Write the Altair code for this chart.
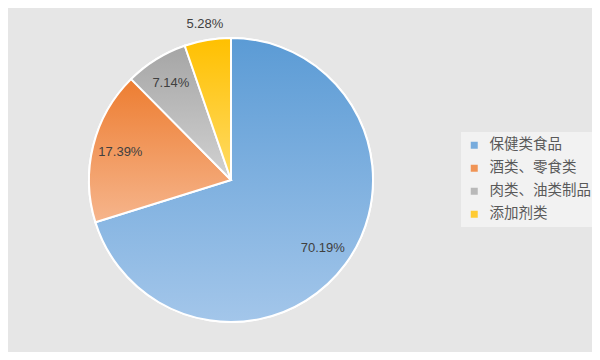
import altair as alt
import pandas as pd

categories = ["保健类食品", "酒类、零食类", "肉类、油类制品", "添加剂类"]
percents = [70.19, 17.39, 7.14, 5.28]
labels = ["70.19%", "17.39%", "7.14%", "5.28%"]
top_colors = ["#5b9bd5", "#ed7d31", "#a5a5a5", "#ffc000"]
bottom_colors = ["#a3c6ea", "#f6b58c", "#d2d2d2", "#ffdb66"]
legend_colors = ["#78acdd", "#f09456", "#b9b9b9", "#ffcb33"]

df = pd.DataFrame({
    "cat": categories,
    "pct": percents,
    "label": labels,
    "idx": list(range(len(categories))),
})

CX, CY, R = 223, 172, 142

base = alt.Chart(df).transform_window(
    cum="sum(pct)", sort=[alt.SortField("idx")]
).transform_calculate(
    t0="(datum.cum - datum.pct) / 100 * 2 * PI",
    t1="datum.cum / 100 * 2 * PI",
    tm="(datum.cum - datum.pct / 2) / 100 * 2 * PI",
    lr="datum.pct < 6 ? 158 : 114",
)

legend_layer = base.mark_arc(radius=R, stroke="white", strokeWidth=2).encode(
    x=alt.value(CX), y=alt.value(CY),
    theta=alt.Theta("t0:Q", scale=None),
    theta2="t1:Q",
    color=alt.Color(
        "cat:N",
        scale=alt.Scale(domain=categories, range=legend_colors),
        sort=categories,
        legend=alt.Legend(
            title=None, orient="none", legendX=453, legendY=124,
            symbolType="square", symbolSize=49, symbolStrokeWidth=0,
            labelFont="Noto Sans CJK SC", labelFontSize=14.5, labelColor="#595959",
            rowPadding=8, padding=6, fillColor="#f2f2f2",
            labelOffset=8, labelLimit=200,
        ),
    ),
)

layers = [legend_layer]
for c, t, b in zip(categories, top_colors, bottom_colors):
    grad = alt.LinearGradient(
        gradient="linear",
        stops=[alt.GradientStop(color=t, offset=0), alt.GradientStop(color=b, offset=1)],
        x1=0, x2=0, y1=0, y2=1,
    )
    layers.append(
        base.transform_filter(alt.datum.cat == c)
        .mark_arc(radius=R, fill=grad, stroke="white", strokeWidth=2)
        .encode(
            x=alt.value(CX), y=alt.value(CY),
            theta=alt.Theta("t0:Q", scale=None),
            theta2="t1:Q",
        )
    )

text_layer = base.mark_text(
    font="Liberation Sans", fontSize=13, color="#404040"
).encode(
    x=alt.value(CX), y=alt.value(CY),
    theta=alt.Theta("tm:Q", scale=None),
    radius=alt.Radius("lr:Q", scale=None),
    text="label:N",
)
layers.append(text_layer)

chart = alt.layer(*layers).properties(
    width=584, height=344,
    autosize=alt.AutoSizeParams(type="none"),
    padding=0,
    background="#e6e6e6",
).configure_view(stroke=None)

chart.save("out.html", embed_options={"renderer": "svg", "actions": False})
